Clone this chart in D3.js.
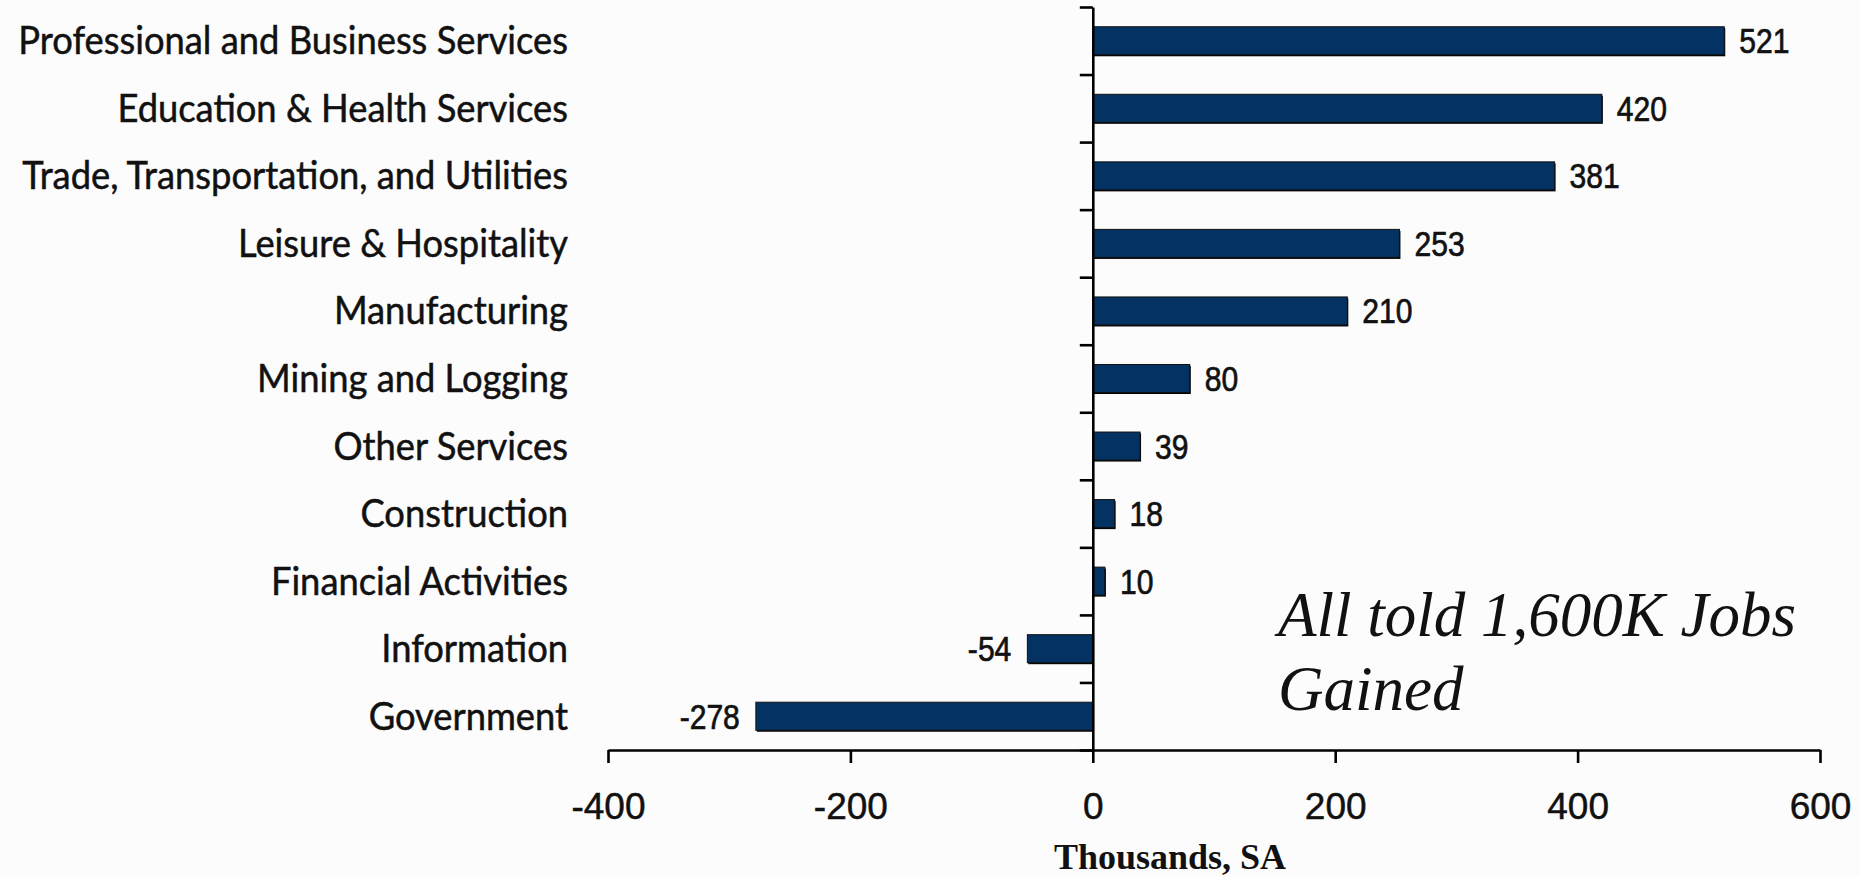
<!DOCTYPE html>
<html>
<head>
<meta charset="utf-8">
<script src="https://cdn.jsdelivr.net/npm/d3@7"></script>
<style>
  html, body { margin: 0; padding: 0; background: #fcfcfc; }
  svg { display: block; }
</style>
</head>
<body>
<svg id="chart" width="1860" height="877"></svg>
<script>
// Payroll job change by industry (thousands, seasonally adjusted)
const categories = [
  "Professional and Business Services",
  "Education & Health Services",
  "Trade, Transportation, and Utilities",
  "Leisure & Hospitality",
  "Manufacturing",
  "Mining and Logging",
  "Other Services",
  "Construction",
  "Financial Activities",
  "Information",
  "Government"
];
const values = [521, 420, 381, 253, 210, 80, 39, 18, 10, -54, -278];
const xTicks = [-400, -200, 0, 200, 400, 600];
const axisTitle = "Thousands, SA";
const noteLines = ["All told 1,600K Jobs", "Gained"];

const svg = d3.select("#chart");

const plotTop = 7, plotBottom = 750;
const x = d3.scaleLinear().domain([-400, 600]).range([608, 1820]);

// one row per industry, bars centred in each row
const rows = d3.scaleBand().domain(categories).range([plotTop, plotBottom]).padding(0);
const barFrac = 0.415;
const barH = rows.bandwidth() * barFrac;
const rowCenter = d => rows(d) + rows.bandwidth() / 2;

// plain hyphen-minus for negative numbers
const fmt = d => String(d);

// bars: dark edge underneath, then navy fill with thin dark outline
const barG = svg.append("g");
const data = categories.map((c, i) => ({ c, v: values[i] }));

barG.selectAll("rect.shadow")
  .data(data)
  .join("rect")
  .attr("class", "shadow")
  .attr("x", d => Math.min(x(0), x(d.v)) + 1)
  .attr("y", d => rowCenter(d.c) - barH / 2 + 1.5)
  .attr("width", d => Math.abs(x(d.v) - x(0)))
  .attr("height", barH)
  .attr("fill", "#050505");

barG.selectAll("rect.bar")
  .data(data)
  .join("rect")
  .attr("class", "bar")
  .attr("x", d => Math.min(x(0), x(d.v)))
  .attr("y", d => rowCenter(d.c) - barH / 2)
  .attr("width", d => Math.abs(x(d.v) - x(0)))
  .attr("height", barH)
  .attr("fill", "#033263")
  .attr("stroke", "#111")
  .attr("stroke-width", 1);

// bottom value axis
const xAxis = d3.axisBottom(x)
  .tickValues(xTicks)
  .tickFormat(fmt)
  .tickSize(13)
  .tickSizeOuter(0)
  .tickPadding(0);

const xg = svg.append("g")
  .attr("transform", `translate(0,${plotBottom})`)
  .call(xAxis);
xg.select(".domain").attr("stroke", "#000").attr("stroke-width", 2.6);
xg.selectAll(".tick line").attr("stroke", "#000").attr("stroke-width", 2.6);
xg.selectAll(".tick text")
  .attr("y", 69)
  .attr("dy", null)
  .attr("fill", "#111")
  .attr("stroke", "#111")
  .attr("stroke-width", 0.5)
  .attr("font-family", "'Liberation Sans', Arial, sans-serif")
  .attr("font-size", 37);

// vertical category axis at zero, ticks on row boundaries
const idx = d3.scaleLinear().domain([0, categories.length]).range([plotTop, plotBottom]);
const yAxis = d3.axisLeft(idx)
  .tickValues(d3.range(categories.length + 1))
  .tickFormat("")
  .tickSize(13)
  .tickSizeOuter(0);
const yg = svg.append("g")
  .attr("transform", `translate(${x(0)},0)`)
  .call(yAxis);
yg.select(".domain").attr("stroke", "#000").attr("stroke-width", 2.6);
yg.selectAll(".tick line").attr("stroke", "#000").attr("stroke-width", 2.6);

// category labels, right aligned left of the plot
const labelRight = 568, labelWidth = 550, labelSize = 38, labelCap = 27;
const labG = svg.append("g");
const labs = labG.selectAll("g")
  .data(categories)
  .join("g");
const labText = labs.append("text")
  .attr("text-anchor", "end")
  .attr("font-family", "Lato, 'Open Sans', sans-serif")
  .attr("font-size", labelSize)
  .attr("fill", "#111")
  .attr("stroke", "#111")
  .attr("stroke-width", 0.5)
  .text(d => d);
// condense to the narrow label face
const longest = d3.max(labText.nodes(), n => n.getComputedTextLength());
const sx = labelWidth / longest;
labs.attr("transform", d => `translate(${labelRight},${rowCenter(d) + labelCap / 2}) scale(${sx},1)`);

// value labels beside bar ends
const valG = svg.append("g");
valG.selectAll("g")
  .data(data)
  .join("g")
  .attr("transform", d => {
    const px = d.v >= 0 ? x(d.v) + 15 : x(d.v) - 16;
    return `translate(${px},${rowCenter(d.c) + 12.5}) scale(0.86,1)`;
  })
  .append("text")
  .attr("text-anchor", d => d.v >= 0 ? "start" : "end")
  .attr("font-family", "'Liberation Sans', Arial, sans-serif")
  .attr("font-size", 35)
  .attr("fill", "#111")
  .attr("stroke", "#111")
  .attr("stroke-width", 0.7)
  .text(d => fmt(d.v));

// axis title
svg.append("text")
  .attr("x", 1170)
  .attr("y", 869)
  .attr("text-anchor", "middle")
  .attr("font-family", "'Liberation Serif', 'Times New Roman', serif")
  .attr("font-weight", "bold")
  .attr("font-size", 36)
  .attr("fill", "#111")
  .text(axisTitle);

// summary note
svg.append("g")
  .selectAll("text")
  .data(noteLines)
  .join("text")
  .attr("x", 1278)
  .attr("y", (d, i) => 636 + i * 74)
  .attr("font-family", "'Liberation Serif', 'Times New Roman', serif")
  .attr("font-style", "italic")
  .attr("font-size", 63)
  .attr("fill", "#111")
  .text(d => d);
</script>
</body>
</html>
